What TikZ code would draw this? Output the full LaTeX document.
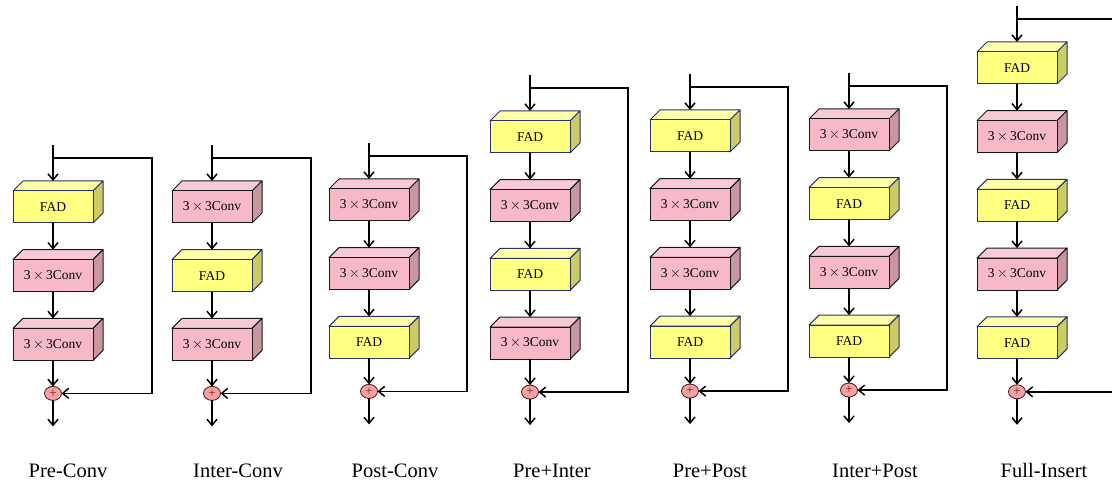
\documentclass[tikz,border=0pt]{standalone}
\usepackage{fontspec}
\setmainfont{Liberation Serif}
\usetikzlibrary{positioning}
\usetikzlibrary{shapes.geometric}
\usetikzlibrary{arrows.meta}
\definecolor{fadfront}{RGB}{255,255,128}
\definecolor{fadtop}{RGB}{255,255,168}
\definecolor{fadside}{RGB}{204,204,102}
\definecolor{fadedge}{RGB}{40,50,100}
\definecolor{convfront}{RGB}{247,185,200}
\definecolor{convtop}{RGB}{248,202,215}
\definecolor{convside}{RGB}{200,150,160}
\definecolor{convedge}{RGB}{25,25,25}
\definecolor{sumfill}{RGB}{242,162,162}
\definecolor{sumsign}{RGB}{120,30,30}
\newcommand{\widthblock}{80pt}
\newcommand{\heightblock}{32pt}
\newcommand{\depthblock}{10pt}
\newcommand{\gapblock}{36.7pt}
\newcommand{\conv}{3\,$\times$\,3Conv}
\newcommand{\faces}[4]{%
    \filldraw[fill=#2, draw=#4, line width=1pt, line join=round]
        (#1.north west) -- ++(\depthblock,\depthblock) -- ++(\widthblock,0pt) -- (#1.north east) -- cycle;
    \filldraw[fill=#3, draw=#4, line width=1pt, line join=round]
        (#1.north east) -- ++(\depthblock,\depthblock) -- ++(0pt,-\heightblock) -- (#1.south east) -- cycle;
}
\tikzset{
    block/.style={draw, rectangle, minimum width=\widthblock, minimum height=\heightblock,
        inner sep=0pt, outer sep=0pt, line width=1pt, font=\fontsize{13.5}{16}\selectfont},
    fad/.style={block, draw=fadedge, fill=fadfront,
        append after command={\pgfextra{\faces{\tikzlastnode}{fadtop}{fadside}{fadedge}}}},
    conv/.style={block, draw=convedge, fill=convfront,
        append after command={\pgfextra{\faces{\tikzlastnode}{convtop}{convside}{convedge}}}},
    sumnode/.style={draw=sumsign!70!black, ellipse, fill=sumfill, minimum width=17pt, minimum height=14pt,
        inner sep=0pt, outer sep=0pt, line width=0.8pt, text=sumsign, font=\fontsize{13}{13}\selectfont},
    flow/.style={-{Straight Barb[length=6pt, width=10pt]}, line width=1.5pt},
    blocktitle/.style={anchor=base, font=\fontsize{20.5}{24}\selectfont}
}
\begin{document}
\begin{tikzpicture}[x=1pt, y=-1pt]
    \useasboundingbox (0,0) rectangle (1112,484);

    % Pre-Conv
    \node[fad] (pc1) at (53,207) {FAD};
    \node[conv, below=\gapblock of pc1] (pc2) {\conv};
    \node[conv, below=\gapblock of pc2] (pc3) {\conv};
    \node[sumnode, below=26pt of pc3] (pcsum) {+};
    \coordinate[above=46pt of pc1.north] (pcin);
    \coordinate[above=33pt of pc1.north] (pcfork);
    \coordinate[right=99pt of pcfork] (pcturn);
    \coordinate[below=26pt of pcsum] (pcout);
    \draw[flow] (pcin) -- ([yshift=\depthblock]pc1.north);
    \draw[flow] (pc1) -- ([yshift=\depthblock]pc2.north);
    \draw[flow] (pc2) -- ([yshift=\depthblock]pc3.north);
    \draw[flow] (pc3) -- (pcsum);
    \draw[flow] (pcfork) -- (pcturn) |- (pcsum);
    \draw[flow] (pcsum) -- (pcout);
    \node[blocktitle] (pctitle) at (68,477) {Pre-Conv};

    % Inter-Conv
    \node[conv] (ic1) at (212,207) {\conv};
    \node[fad, below=\gapblock of ic1] (ic2) {FAD};
    \node[conv, below=\gapblock of ic2] (ic3) {\conv};
    \node[sumnode, below=26pt of ic3] (icsum) {+};
    \coordinate[above=46pt of ic1.north] (icin);
    \coordinate[above=33pt of ic1.north] (icfork);
    \coordinate[right=99pt of icfork] (icturn);
    \coordinate[below=26pt of icsum] (icout);
    \draw[flow] (icin) -- ([yshift=\depthblock]ic1.north);
    \draw[flow] (ic1) -- ([yshift=\depthblock]ic2.north);
    \draw[flow] (ic2) -- ([yshift=\depthblock]ic3.north);
    \draw[flow] (ic3) -- (icsum);
    \draw[flow] (icfork) -- (icturn) |- (icsum);
    \draw[flow] (icsum) -- (icout);
    \node[blocktitle] (ictitle) at (238,477) {Inter-Conv};

    % Post-Conv
    \node[conv] (oc1) at (369,205) {\conv};
    \node[conv, below=\gapblock of oc1] (oc2) {\conv};
    \node[fad, below=\gapblock of oc2] (oc3) {FAD};
    \node[sumnode, below=26pt of oc3] (ocsum) {+};
    \coordinate[above=46pt of oc1.north] (ocin);
    \coordinate[above=33pt of oc1.north] (ocfork);
    \coordinate[right=98pt of ocfork] (octurn);
    \coordinate[below=26pt of ocsum] (ocout);
    \draw[flow] (ocin) -- ([yshift=\depthblock]oc1.north);
    \draw[flow] (oc1) -- ([yshift=\depthblock]oc2.north);
    \draw[flow] (oc2) -- ([yshift=\depthblock]oc3.north);
    \draw[flow] (oc3) -- (ocsum);
    \draw[flow] (ocfork) -- (octurn) |- (ocsum);
    \draw[flow] (ocsum) -- (ocout);
    \node[blocktitle] (octitle) at (395,477) {Post-Conv};

    % Pre+Inter
    \node[fad] (pi1) at (530,137) {FAD};
    \node[conv, below=\gapblock of pi1] (pi2) {\conv};
    \node[fad, below=\gapblock of pi2] (pi3) {FAD};
    \node[conv, below=\gapblock of pi3] (pi4) {\conv};
    \node[sumnode, below=26pt of pi4] (pisum) {+};
    \coordinate[above=46pt of pi1.north] (piin);
    \coordinate[above=33pt of pi1.north] (pifork);
    \coordinate[right=98pt of pifork] (piturn);
    \coordinate[below=26pt of pisum] (piout);
    \draw[flow] (piin) -- ([yshift=\depthblock]pi1.north);
    \draw[flow] (pi1) -- ([yshift=\depthblock]pi2.north);
    \draw[flow] (pi2) -- ([yshift=\depthblock]pi3.north);
    \draw[flow] (pi3) -- ([yshift=\depthblock]pi4.north);
    \draw[flow] (pi4) -- (pisum);
    \draw[flow] (pifork) -- (piturn) |- (pisum);
    \draw[flow] (pisum) -- (piout);
    \node[blocktitle] (pititle) at (552,477) {Pre+Inter};

    % Pre+Post
    \node[fad] (pp1) at (690,136) {FAD};
    \node[conv, below=\gapblock of pp1] (pp2) {\conv};
    \node[conv, below=\gapblock of pp2] (pp3) {\conv};
    \node[fad, below=\gapblock of pp3] (pp4) {FAD};
    \node[sumnode, below=26pt of pp4] (ppsum) {+};
    \coordinate[above=46pt of pp1.north] (ppin);
    \coordinate[above=33pt of pp1.north] (ppfork);
    \coordinate[right=98pt of ppfork] (ppturn);
    \coordinate[below=26pt of ppsum] (ppout);
    \draw[flow] (ppin) -- ([yshift=\depthblock]pp1.north);
    \draw[flow] (pp1) -- ([yshift=\depthblock]pp2.north);
    \draw[flow] (pp2) -- ([yshift=\depthblock]pp3.north);
    \draw[flow] (pp3) -- ([yshift=\depthblock]pp4.north);
    \draw[flow] (pp4) -- (ppsum);
    \draw[flow] (ppfork) -- (ppturn) |- (ppsum);
    \draw[flow] (ppsum) -- (ppout);
    \node[blocktitle] (pptitle) at (710,477) {Pre+Post};

    % Inter+Post
    \node[conv] (ip1) at (849,135) {\conv};
    \node[fad, below=\gapblock of ip1] (ip2) {FAD};
    \node[conv, below=\gapblock of ip2] (ip3) {\conv};
    \node[fad, below=\gapblock of ip3] (ip4) {FAD};
    \node[sumnode, below=26pt of ip4] (ipsum) {+};
    \coordinate[above=46pt of ip1.north] (ipin);
    \coordinate[above=33pt of ip1.north] (ipfork);
    \coordinate[right=98pt of ipfork] (ipturn);
    \coordinate[below=26pt of ipsum] (ipout);
    \draw[flow] (ipin) -- ([yshift=\depthblock]ip1.north);
    \draw[flow] (ip1) -- ([yshift=\depthblock]ip2.north);
    \draw[flow] (ip2) -- ([yshift=\depthblock]ip3.north);
    \draw[flow] (ip3) -- ([yshift=\depthblock]ip4.north);
    \draw[flow] (ip4) -- (ipsum);
    \draw[flow] (ipfork) -- (ipturn) |- (ipsum);
    \draw[flow] (ipsum) -- (ipout);
    \node[blocktitle] (iptitle) at (875,477) {Inter+Post};

    % Full-Insert
    \node[fad] (fi1) at (1017,68) {FAD};
    \node[conv, below=\gapblock of fi1] (fi2) {\conv};
    \node[fad, below=\gapblock of fi2] (fi3) {FAD};
    \node[conv, below=\gapblock of fi3] (fi4) {\conv};
    \node[fad, below=\gapblock of fi4] (fi5) {FAD};
    \node[sumnode, below=26pt of fi5] (fisum) {+};
    \coordinate[above=46pt of fi1.north] (fiin);
    \coordinate[above=33pt of fi1.north] (fifork);
    \coordinate[right=98pt of fifork] (fiturn);
    \coordinate[below=26pt of fisum] (fiout);
    \draw[flow] (fiin) -- ([yshift=\depthblock]fi1.north);
    \draw[flow] (fi1) -- ([yshift=\depthblock]fi2.north);
    \draw[flow] (fi2) -- ([yshift=\depthblock]fi3.north);
    \draw[flow] (fi3) -- ([yshift=\depthblock]fi4.north);
    \draw[flow] (fi4) -- ([yshift=\depthblock]fi5.north);
    \draw[flow] (fi5) -- (fisum);
    \draw[flow] (fifork) -- (fiturn) |- (fisum);
    \draw[flow] (fisum) -- (fiout);
    \node[blocktitle] (fititle) at (1044,477) {Full-Insert};
\end{tikzpicture}
\end{document}
